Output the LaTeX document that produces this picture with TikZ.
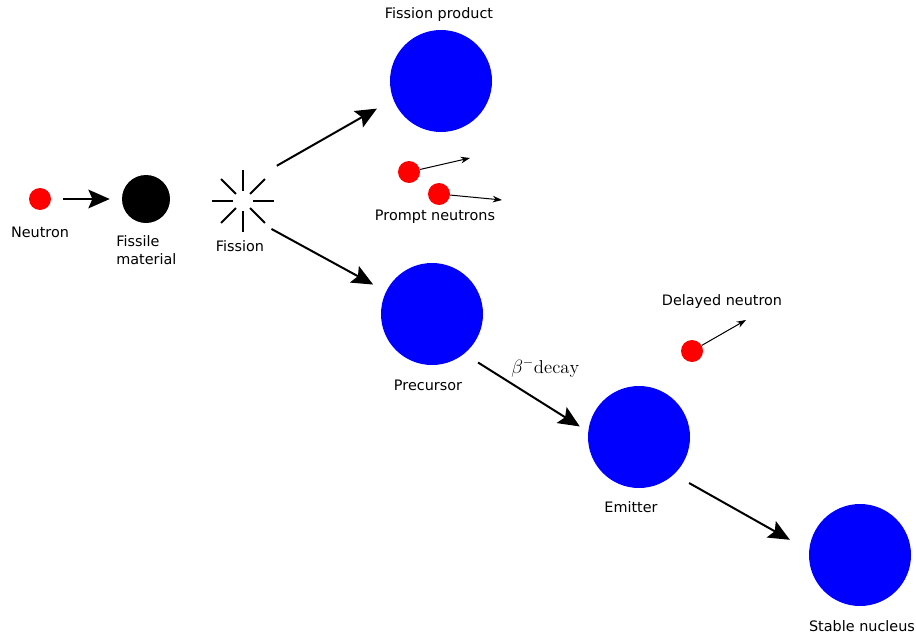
\documentclass[tikz,border=0pt]{standalone}
\usepackage{fontspec}
\newfontfamily\labelfont{DejaVu Sans}
\usetikzlibrary{arrows.meta}

\begin{document}
\begin{tikzpicture}[x=0.75pt, y=-0.75pt,
  nucleus/.style={circle, fill=blue, inner sep=0pt, minimum size=76.5pt},
  neutron/.style={circle, fill=red, inner sep=0pt, minimum size=16.5pt},
  lbl/.style={font=\labelfont\fontsize{10.8}{13.9}\selectfont, inner sep=0pt, anchor=base},
  bigarrow/.style={-{Stealth[length=16pt, width=14pt, inset=3pt]}, line width=1.5pt},
  smallarrow/.style={-{Stealth[length=7pt, width=5pt]}, line width=0.75pt}]
\useasboundingbox (0,0) rectangle (916,635);
% incoming neutron and fissile nucleus
\node[neutron] (neutron) at (40,199) {};
\node[lbl] at (40,237) {Neutron};
\node[circle, fill=black, inner sep=0pt, minimum size=36pt] (fissile) at (146,199) {};
\node[lbl, anchor=north west, align=left] at (116,235) {Fissile\\material};
\draw[bigarrow, shorten <=9pt, shorten >=9pt] (neutron) -- (fissile);
% fission burst
\node[circle, inner sep=0pt, minimum size=46.5pt] (fission) at (243,201) {};
\foreach \a in {0,45,...,315}
  \draw[line width=1.5pt] ([shift={(\a:10)}]fission.center) -- ([shift={(\a:31)}]fission.center);
\node[lbl] at (240,251) {Fission};
% fission products
\node[nucleus] (product) at (441,81) {};
\node[lbl] at (439,19) {Fission product};
\node[nucleus] (precursor) at (432,314) {};
\node[lbl] at (428,390) {Precursor};
\draw[bigarrow, shorten <=14.1pt, shorten >=14pt] (fission.56) -- (product.201.6);
\draw[bigarrow, shorten <=6.8pt, shorten >=10.9pt] (fission.-49.7) -- (precursor.154.4);
% prompt neutrons
\node[neutron] (prompta) at (409,172) {};
\coordinate (promptaend) at (470,158);
\draw[smallarrow] (prompta) -- (promptaend);
\node[neutron] (promptb) at (439,194) {};
\coordinate (promptbend) at (502,200);
\draw[smallarrow] (promptb) -- (promptbend);
\node[lbl] at (435,220) {Prompt neutrons};
% decay chain
\node[nucleus] (emitter) at (639,437) {};
\node[lbl] at (631,512) {Emitter};
\node[nucleus] (stable) at (860,555) {};
\node[lbl] at (862,631) {Stable nucleus};
\draw[bigarrow, shorten <=12.2pt, shorten >=7.3pt] (precursor.-51.8) -- (emitter.174.9);
\node[font=\fontsize{14}{16}\selectfont, anchor=base west, inner sep=0pt] at (511,373) {$\beta^-\mathrm{decay}$};
\draw[bigarrow, shorten <=13pt, shorten >=16.4pt] (emitter.-47.9) -- (stable.175.2);
% delayed neutron
\node[neutron] (delayed) at (692,351) {};
\coordinate (delayedend) at (746,320);
\draw[smallarrow] (delayed) -- (delayedend);
\node[lbl] at (722,305) {Delayed neutron};
\end{tikzpicture}
\end{document}
